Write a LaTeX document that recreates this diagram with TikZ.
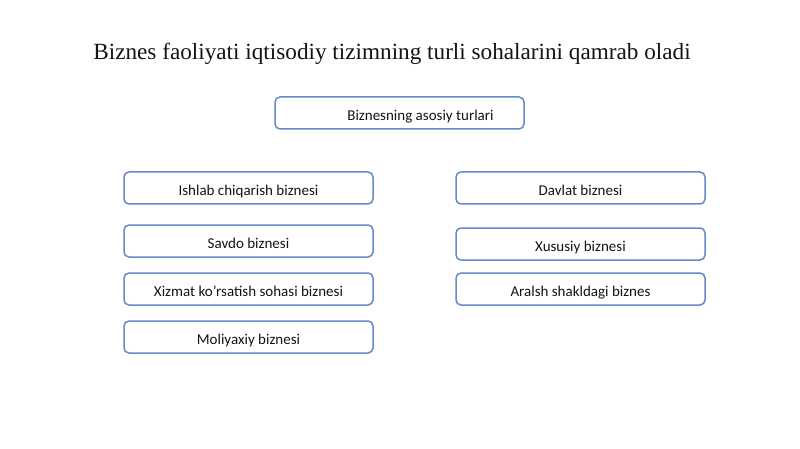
\documentclass[tikz,border=0pt]{standalone}
\usepackage{fontspec}
\setmainfont{Liberation Serif}
\newfontfamily\boxfont{Carlito}
\definecolor{boxblue}{RGB}{100,138,200}
\definecolor{txt}{RGB}{20,20,20}
\begin{document}
\begin{tikzpicture}[x=1pt,y=-1pt,
  boxtext/.style={font=\boxfont\fontsize{15}{18}\selectfont, text=txt, text height=15pt, text depth=0pt, inner sep=0pt},
  bizbox/.style={boxtext, draw=boxblue, line width=1.5pt, rounded corners=5pt, fill=white,
    minimum width=249pt, minimum height=32pt}]
\useasboundingbox[fill=white] (0,0) rectangle (800,449);
\node[font=\fontsize{23.2}{27}\selectfont, text=txt] (title) at (392,54) {Biznes faoliyati iqtisodiy tizimning turli sohalarini qamrab oladi};
\node[bizbox] (top) at (399.5,113) {};
\node[boxtext] (toplabel) at (420.5,113) {Biznesning asosiy turlari};
\node[bizbox] (l1) at (248.5,188) {Ishlab chiqarish biznesi};
\node[bizbox] (l2) at (248.5,241) {Savdo biznesi};
\node[bizbox] (l3) at (248.5,289) {Xizmat ko’rsatish sohasi biznesi};
\node[bizbox] (l4) at (248.5,337) {Moliyaxiy biznesi};
\node[bizbox] (r1) at (580.5,188) {Davlat biznesi};
\node[bizbox] (r2) at (580.5,244) {Xususiy biznesi};
\node[bizbox] (r3) at (580.5,289) {Aralsh shakldagi biznes};
\end{tikzpicture}
\end{document}
